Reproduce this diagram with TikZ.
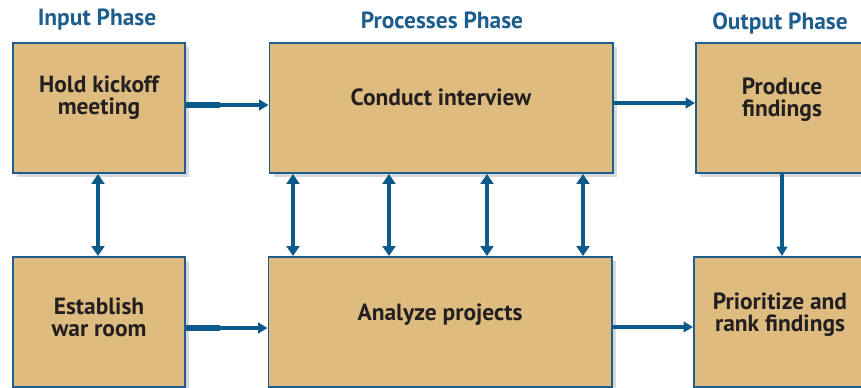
\documentclass[tikz,border=0pt]{standalone}
\usepackage{fontspec}
\setmainfont{PT Sans}
\usetikzlibrary{arrows.meta,shadows}

\definecolor{boxtan}{HTML}{DEBB7E}
\definecolor{edgeblue}{HTML}{1E5E8E}
\definecolor{arrowblue}{HTML}{0C5A8B}
\definecolor{textdark}{HTML}{231F20}

\newlength\pxu
\setlength\pxu{0.03cm}

\tikzset{
  phasebox/.style={draw=edgeblue, line width=1.7pt, fill=boxtan,
    minimum height=130\pxu, inner sep=0pt,
    drop shadow={shadow xshift=4\pxu, shadow yshift=-4\pxu, opacity=0.3}},
  smallbox/.style={phasebox, minimum width=172\pxu},
  widebox/.style={phasebox, minimum width=343\pxu},
  boxtext/.style={font=\bfseries\fontsize{20}{19}\selectfont, text=textdark, align=center},
  phasetitle/.style={font=\bfseries\fontsize{20}{20}\selectfont, text=edgeblue},
  flow/.style={arrowblue, line width=2.6pt, -{Triangle[length=8pt,width=9pt]}},
  stub/.style={arrowblue, line width=4.4pt},
  twoway/.style={arrowblue, line width=3.2pt,
    {Triangle[length=8.5pt,width=11pt]}-{Triangle[length=8.5pt,width=11pt]}},
}

\begin{document}
\begin{tikzpicture}[x=1\pxu, y=-1\pxu]
  \useasboundingbox[fill=white] (0,0) rectangle (861,387);

  % Phase titles
  \node[phasetitle] (inputtitle) at (97,20) {Input Phase};
  \node[phasetitle] (proctitle) at (442,20) {Processes Phase};
  \node[phasetitle] (outputtitle) at (780,23) {Output Phase};

  % Top row
  \node[smallbox] (kickoff) at (99,108) {};
  \node[boxtext] (kickofftext) at ([yshift=10\pxu]kickoff) {Hold kickoff\\meeting};
  \node[widebox] (interview) at (441,108) {};
  \node[boxtext] (interviewtext) at ([yshift=11\pxu]interview) {Conduct interview};
  \node[smallbox] (produce) at (782,108) {};
  \node[boxtext] (producetext) at ([yshift=8\pxu]produce) {Produce\\findings};

  % Bottom row
  \node[smallbox] (warroom) at (99,322) {};
  \node[boxtext] (warroomtext) at ([yshift=5\pxu]warroom) {Establish\\war room};
  \node[widebox] (analyze) at (440,322) {};
  \node[boxtext] (analyzetext) at ([yshift=7\pxu]analyze) {Analyze projects};
  \node[smallbox] (prioritize) at (780,322) {};
  \node[boxtext] (prioritizetext) at ([yshift=7\pxu]prioritize) {Prioritize and\\rank findings};

  % Horizontal flow
  \draw[stub] ([yshift=3\pxu]kickoff.east) -- ++(34,0);
  \draw[flow] ([yshift=3\pxu]kickoff.east) -- ([yshift=3\pxu]kickoff.east -| interview.west);
  \draw[flow] ([yshift=5\pxu]interview.east) -- ([yshift=5\pxu]interview.east -| produce.west);
  \draw[stub] ([yshift=-6\pxu]warroom.east) -- ++(34,0);
  \draw[flow] ([yshift=-6\pxu]warroom.east) -- ([yshift=-6\pxu]warroom.east -| analyze.west);
  \draw[flow] ([yshift=-5\pxu]analyze.east) -- ([yshift=-5\pxu]analyze.east -| prioritize.west);

  % Vertical links
  \draw[twoway] ([xshift=-1\pxu]kickoff.south) -- ([xshift=-1\pxu]kickoff.south |- warroom.north);
  \foreach \dx in {-148,-52,46,142}
    \draw[twoway] ([xshift=\dx\pxu]interview.south) -- ([xshift=\dx\pxu]interview.south |- analyze.north);
  \draw[flow, line width=3.2pt] (produce.south) -- (produce.south |- prioritize.north);

\end{tikzpicture}
\end{document}
